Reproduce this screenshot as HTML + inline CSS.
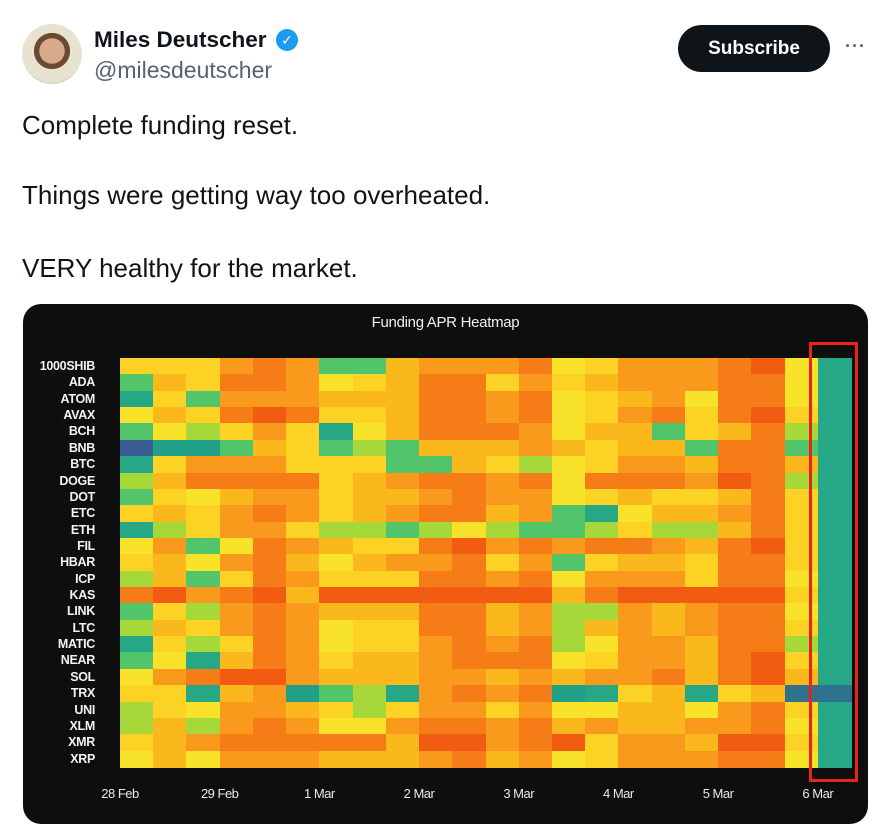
<!DOCTYPE html>
<html><head><meta charset="utf-8">
<style>
body{margin:0;width:882px;height:813px;background:#fff;position:relative;overflow:hidden;font-family:"Liberation Sans","DejaVu Sans",sans-serif;}
.a{position:absolute}
#card{left:23px;top:304px;width:845px;height:520px;background:#0e0e0e;border-radius:18px;}
.lbl{position:absolute;right:787px;font-size:12.5px;color:#f2f2f2;font-weight:bold;letter-spacing:-0.3px;line-height:16px;text-align:right}
.dl{position:absolute;top:786px;font-size:13px;color:#e8e8e8;width:80px;text-align:center;letter-spacing:-0.5px}
.c{position:absolute}
.tx{position:absolute;left:22px;font-size:26px;color:#0f1419;}
</style></head><body>
<div class="a" style="left:22px;top:24px;width:60px;height:60px;border-radius:50%;background:radial-gradient(circle at 50% 45%,#d9a98a 0 28%,#6b4a32 29% 40%,#e8e2d0 41% 70%,#cfd8c0 71%);"></div>
<div class="a" style="left:94px;top:27px;font-size:22.5px;font-weight:bold;color:#0f1419;">Miles Deutscher</div>
<div class="a" style="left:276px;top:29px;width:22px;height:22px;border-radius:50%;background:#1d9bf0;color:#fff;font-size:14px;text-align:center;line-height:22px;font-weight:bold">✓</div>
<div class="a" style="left:94px;top:57px;font-size:23px;color:#536471;">@milesdeutscher</div>
<div class="a" style="left:678px;top:25px;width:152px;height:47px;border-radius:24px;background:#0f1419;color:#fff;font-size:19px;font-weight:bold;text-align:center;line-height:47px;">Subscribe</div>
<div class="a" style="left:845px;top:36px;font-size:18px;color:#536471;font-weight:bold;letter-spacing:1px">···</div>
<div class="tx" style="top:110px">Complete funding reset.</div>
<div class="tx" style="top:180px">Things were getting way too overheated.</div>
<div class="tx" style="top:253px">VERY healthy for the market.</div>
<div id="card" class="a"></div>
<div class="a" style="left:23px;top:314px;width:845px;text-align:center;color:#f0f0f0;font-size:15px;letter-spacing:-0.3px">Funding APR Heatmap</div>
<div id="hm"></div>
<div class="a" style="left:809px;top:342px;width:43px;height:434px;border:3px solid #e8231a;"></div>
<script>
var P={b:'#3b5b93',B:'#2f728e',t:'#20a086',T:'#26a887',g:'#52c46a',l:'#a6d83a',Y:'#f8e22a',y:'#fcd225',o:'#fbb81c',O:'#f99a1d',r:'#f67c17',R:'#f25c12'};
var rows=[
['1000SHIB','yyyOrOggoOOOrYyOOOrRYT'],
['ADA','goyrrOYyorryOyoOOOrrYT'],
['ATOM','TygOOOooorrOrYyoOYrrYT'],
['AVAX','YoyrRryyorrOrYyOryrRyT'],
['BCH','gYlyOyTYorrrOYoogyorlT'],
['BNB','bttgoyglgoooOoyoogrrgT'],
['BTC','TyOOOyyyggoylYyOOorroT'],
['DOGE','lorrrryoOrrOrYrrrORrlT'],
['DOT','gyYoOOyooOrOOYyoyyoryT'],
['ETC','yoyOrOyoOrroOgTYooOryT'],
['ETH','TlyOOyllglYlgglyllo'+'ryT'],
['FIL','YOgYrOoyyrROrOrrOorRyT'],
['HBAR','yoYOroYoOOryOgyooyrryT'],
['ICP','logyrOyyyrrOrYOOOyrrYT'],
['KAS','rROrRoRRRRRRRorRRRRRyT'],
['LINK','gylOrOooorroOllOoOrrYT'],
['LTC','loyOrOYyyrroOloOoOrryT'],
['MATIC','TylyrOYyyOrOrlYOOorrlT'],
['NEAR','gYTorOyooOrrrYyOOorRyT'],
['SOL','YOrRROoooOOoOoOOrorRoT'],
['TRX','yyToOtglTOrOrtTyoTyoBB'],
['UNI','lyYOOoylyOOyOYYooYOryT'],
['XLM','lolOrOYYOrrOroOooOOrYT'],
['XMR','yoOrrrrroRROrRyOOoRRyT'],
['XRP','YoYOOOoooOroOYyOOOrrYT']];
var h='',x0=120,cw=731/22,y0=358,rh=409/25;
rows.forEach(function(r,i){
 var y=y0+i*rh;
 h+='<div class="lbl" style="top:'+(y)+'px">'+r[0]+'</div>';
 for(var j=0;j<22;j++){
  var x=x0+j*cw;
  h+='<div class="c" style="left:'+x.toFixed(2)+'px;top:'+y.toFixed(2)+'px;width:'+(cw+0.6).toFixed(2)+'px;height:'+(rh+0.6).toFixed(2)+'px;background:'+P[r[1][j]]+'"></div>';
 }
});
var d=['28 Feb','29 Feb','1 Mar','2 Mar','3 Mar','4 Mar','5 Mar','6 Mar'];
d.forEach(function(t,k){h+='<div class="dl" style="left:'+(x0+k*cw*3-40).toFixed(1)+'px">'+t+'</div>';});
document.getElementById('hm').innerHTML=h;
</script>
</body></html>
